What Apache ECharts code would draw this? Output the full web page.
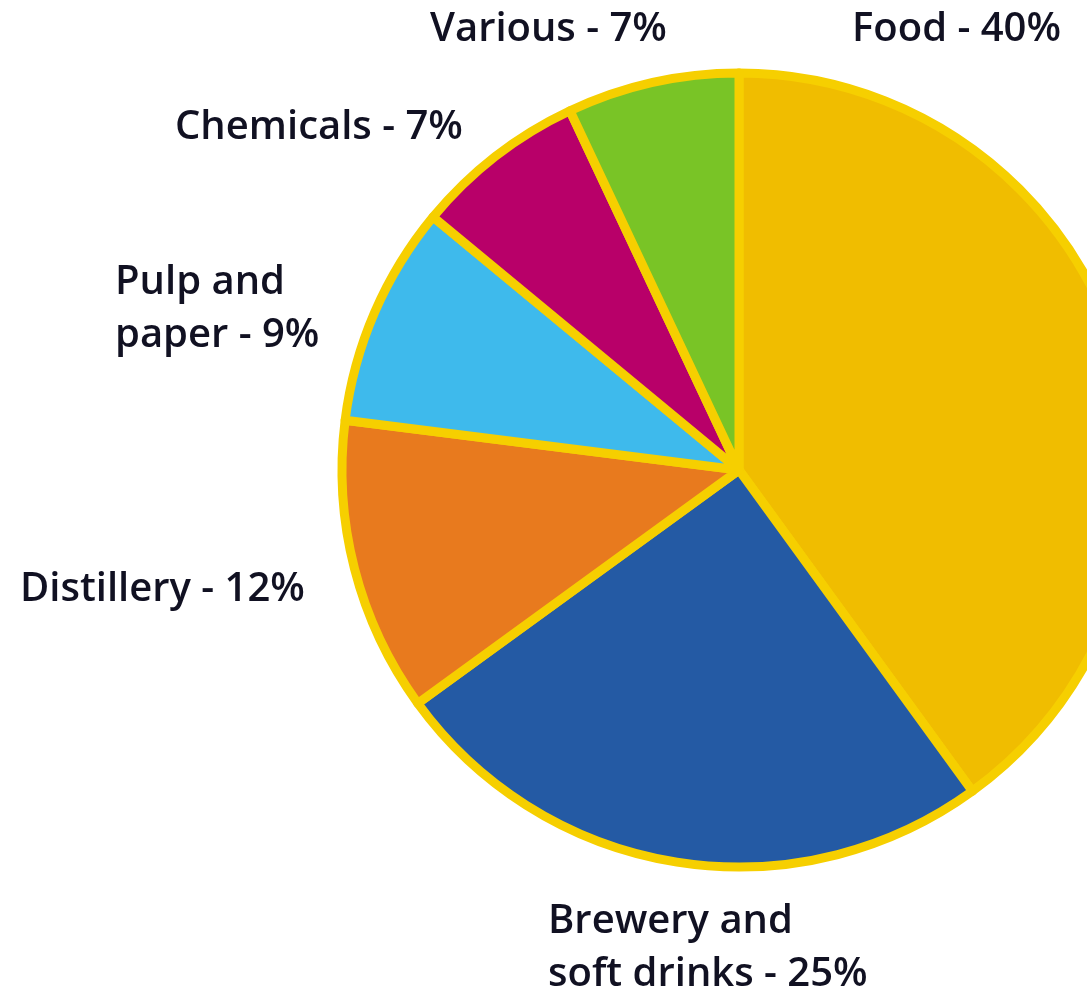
<!DOCTYPE html>
<html>
<head>
<meta charset="utf-8">
<script src="https://cdn.jsdelivr.net/npm/echarts@6/dist/echarts.min.js"></script>
<style>
  html, body { margin: 0; padding: 0; background: #fff; }
  #chart { width: 1087px; height: 993px; }
</style>
</head>
<body>
<div id="chart"></div>
<script>
const categories = ['Food', 'Brewery and\nsoft drinks', 'Distillery', 'Pulp and\npaper', 'Chemicals', 'Various'];
const values = [40, 25, 12, 9, 7, 7];
const colors = ['#f0bd00', '#245aa4', '#e87a1e', '#3ebaec', '#b80069', '#79c426'];
// label anchor positions (left edge, vertical middle)
const labelPos = [
  [852, 30], [548, 948], [20, 590], [115, 309], [175, 128], [430, 30]
];

const chart = echarts.init(document.getElementById('chart'), null, { renderer: 'canvas' });
chart.setOption({
  animation: false,
  backgroundColor: '#ffffff',
  series: [{
    type: 'pie',
    center: [739, 470],
    radius: [0, 397],
    startAngle: 90,
    clockwise: true,
    avoidLabelOverlap: false,
    data: categories.map((c, i) => ({ name: c, value: values[i], itemStyle: { color: colors[i] } })),
    itemStyle: { borderColor: '#f6cf00', borderWidth: 9, borderJoin: 'round' },
    label: {
      show: true,
      position: 'inside',
      formatter: p => p.name + ' - ' + p.value + '%',
      fontFamily: 'Open Sans',
      fontWeight: 600,
      fontSize: 40,
      lineHeight: 53,
      color: '#111122',
      overflow: 'none'
    },
    labelLine: { show: false },
    labelLayout: function (params) {
      const pos = labelPos[params.dataIndex];
      return { x: pos[0], y: pos[1], align: 'left', verticalAlign: 'middle', hideOverlap: false, moveOverlap: false };
    },
    emphasis: { disabled: true }
  }]
});
</script>
</body>
</html>
